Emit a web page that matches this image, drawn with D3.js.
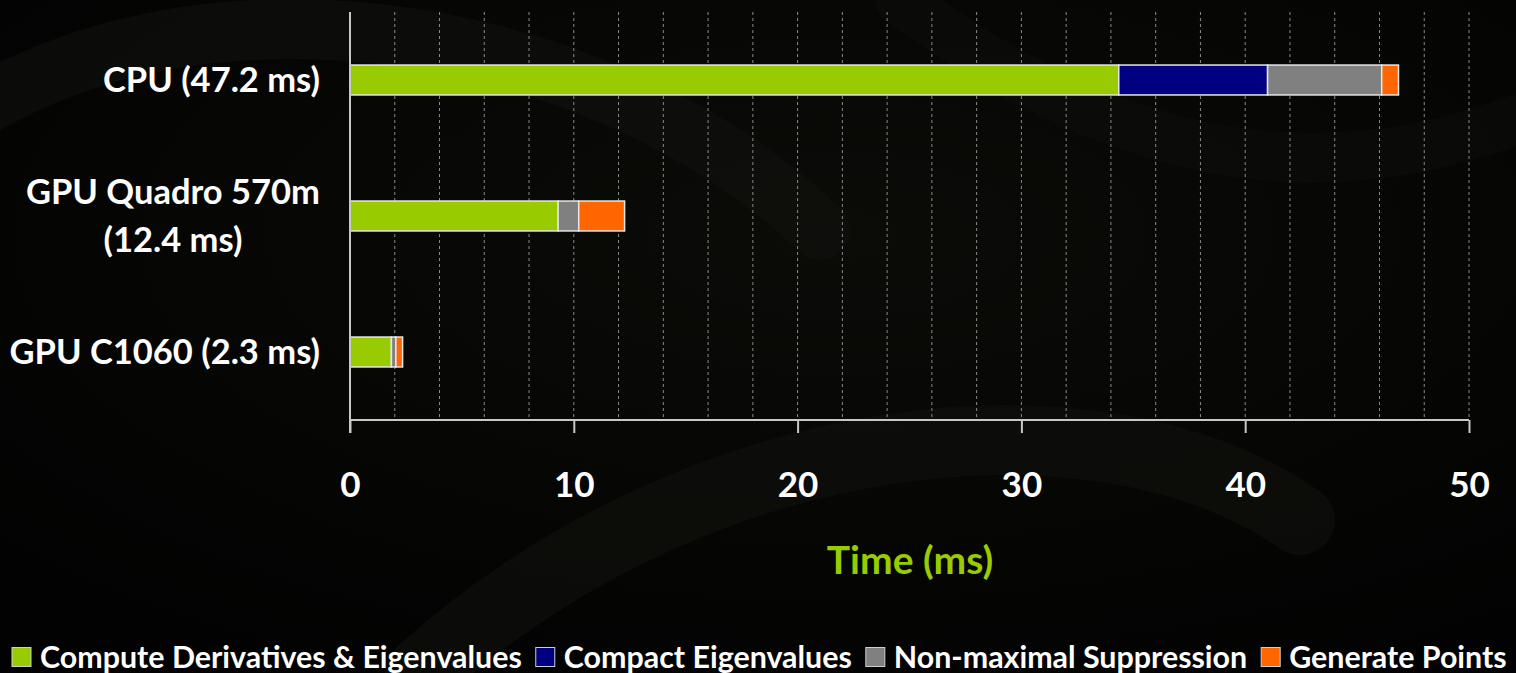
<!DOCTYPE html>
<html><head><meta charset="utf-8">
<script src="https://cdn.jsdelivr.net/npm/d3@7"></script>
<style>
html,body{margin:0;padding:0;background:#030303;}
svg{display:block;}
text{font-family:Lato,"Open Sans",sans-serif;font-weight:bold;}
</style></head>
<body>
<svg id="chart" width="1516" height="673"></svg>
<script>
const categories = ["CPU (47.2 ms)", "GPU Quadro 570m (12.4 ms)", "GPU C1060 (2.3 ms)"];
const categoryLines = [["CPU (47.2 ms)"], ["GPU Quadro 570m", "(12.4 ms)"], ["GPU C1060 (2.3 ms)"]];
const seriesNames = ["Compute Derivatives & Eigenvalues", "Compact Eigenvalues", "Non-maximal Suppression", "Generate Points"];
const seriesColors = ["#99cc00", "#000080", "#808080", "#ff6600"];
const computeDerivatives = [34.35, 9.3, 1.85];
const compactEigenvalues = [6.65, 0.0, 0.0];
const nonMaxSuppression = [5.1, 0.92, 0.2];
const generatePoints = [0.75, 2.05, 0.3];
const xTicks = [0, 10, 20, 30, 40, 50];
const xMax = 50;
const axisTitle = "Time (ms)";

(function(){
const svg = d3.select("#chart");
const W = 1516, H = 673;

const defs = svg.append("defs");
const rg = defs.append("radialGradient").attr("id","bg").attr("cx","55%").attr("cy","35%").attr("r","75%");
rg.append("stop").attr("offset","0%").attr("stop-color","#0b0b08");
rg.append("stop").attr("offset","100%").attr("stop-color","#020202");
svg.append("rect").attr("width",W).attr("height",H).attr("fill","url(#bg)");
const bgArcs = svg.append("g").attr("fill","none").attr("stroke-linecap","round");
bgArcs.append("path").attr("d","M -40 120 C 200 -40, 600 20, 820 230").attr("stroke","#11110f").attr("stroke-width",60).attr("opacity",0.6);
bgArcs.append("path").attr("d","M 420 673 C 700 420, 1100 380, 1300 520").attr("stroke","#10120d").attr("stroke-width",70).attr("opacity",0.6);
bgArcs.append("path").attr("d","M 900 0 C 1100 150, 1300 200, 1516 120").attr("stroke","#0e0e0c").attr("stroke-width",50).attr("opacity",0.5);

const mL = 350, mR = 1469, mT = 12, mB = 420;
const x = d3.scaleLinear().domain([0, xMax]).range([mL, mR]);
const y = d3.scaleBand().domain(categories).range([mT, mB]).paddingInner(0.78).paddingOuter(0.39);

const minor = d3.range(2, xMax + 0.001, 2);
svg.append("g").selectAll("line").data(minor).join("line")
  .attr("x1", d => x(d)).attr("x2", d => x(d)).attr("y1", mT).attr("y2", mB)
  .attr("stroke", "#8a8a8a").attr("stroke-width", 1).attr("stroke-dasharray", "3,3");

const rows = categories.map((c, i) => ({cat: c, v: [computeDerivatives[i], compactEigenvalues[i], nonMaxSuppression[i], generatePoints[i]]}));
const stack = d3.stack().keys([0,1,2,3]).value((d, k) => d.v[k]);
const stacked = stack(rows);

const gBars = svg.append("g");
stacked.forEach((layer, k) => {
  gBars.append("g").selectAll("rect").data(layer.filter(d => d[1] - d[0] > 0)).join("rect")
    .attr("x", d => x(d[0])).attr("width", d => x(d[1]) - x(d[0]))
    .attr("y", d => y(d.data.cat)).attr("height", y.bandwidth())
    .attr("fill", seriesColors[k]).attr("stroke", "#e6e6e6").attr("stroke-width", 1.5);
});

const xAxis = d3.axisBottom(x).tickValues(xTicks).tickSize(13).tickFormat(d3.format("d"));
const gx = svg.append("g").attr("transform", `translate(0,${mB})`).call(xAxis);
gx.select(".domain").attr("stroke", "#c8c8c8").attr("stroke-width", 2).attr("d", `M${mL},0H${mR}`);
gx.selectAll(".tick line").attr("stroke", "#c8c8c8").attr("stroke-width", 2);
gx.selectAll(".tick text").attr("fill", "#ffffff").attr("font-size", 35).attr("dy", "0.35em").attr("y", 65)
  .style("font-family", "Lato,'Open Sans',sans-serif").style("font-weight", "bold");

svg.append("line").attr("x1", mL).attr("x2", mL).attr("y1", mT).attr("y2", mB + 13)
  .attr("stroke", "#c8c8c8").attr("stroke-width", 2);

const gLab = svg.append("g");
categories.forEach((c, i) => {
  const lines = categoryLines[i];
  const cy = y(c) + y.bandwidth() / 2;
  const lh = 48;
  const t = gLab.append("text").attr("fill", "#fff").attr("font-size", 34.5).attr("text-anchor", "middle");
  lines.forEach((ln, j) => {
    t.append("tspan").attr("x", 0).attr("y", cy + (j - (lines.length - 1) / 2) * lh).attr("dy", "0.35em").text(ln);
  });
  const bw = t.node().getBBox().width;
  t.attr("transform", `translate(${320 - bw / 2},0)`);
});

svg.append("text").attr("x", 910).attr("y", 560).attr("dy", "0.35em")
  .attr("text-anchor", "middle").attr("fill", "#99cc00").attr("font-size", 39).text(axisTitle);

const gl = svg.append("g").attr("transform", "translate(12,657)");
let lx = 0;
seriesNames.forEach((n, k) => {
  gl.append("rect").attr("x", lx).attr("y", -9.5).attr("width", 19).attr("height", 19)
    .attr("fill", seriesColors[k]).attr("stroke", "#cfcfcf").attr("stroke-width", 1);
  const t = gl.append("text").attr("x", lx + 28).attr("y", 0).attr("dy", "0.35em")
    .attr("fill", "#fff").attr("font-size", 30.4).text(n);
  lx += 28 + t.node().getComputedTextLength() + 14;
});
})();
</script>
</body></html>
